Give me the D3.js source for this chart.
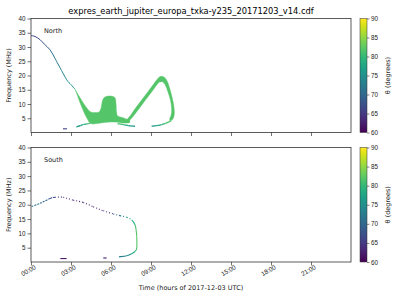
<!DOCTYPE html>
<html><head><meta charset="utf-8">
<script src="https://cdn.jsdelivr.net/npm/d3@7"></script>
<style>
body{margin:0;background:#fff;}
svg{font-family:"DejaVu Sans",sans-serif;}
</style></head>
<body><svg id="c" width="400" height="300"></svg>
<script>
const title = "expres_earth_jupiter_europa_txka-y235_20171203_v14.cdf";
const xTickHours = [0,3,6,9,12,15,18,21];
const xTickLabels = ["00:00","03:00","06:00","09:00","12:00","15:00","18:00","21:00"];
const yTicks = [5,10,15,20,25,30,35,40];
const cbTicks = [60,65,70,75,80,85,90];

// North: thin descending curve
const nLineT = [0,0.3,0.7,1.0,1.43,1.8,2.17,2.68,3.0,3.3];
const nLineF = [34,33.7,32.5,31,29,26,22.8,18.5,16.8,15.2];
const nLineTh = [66,66,67,68,70,72,73,75,76,78];
// North: main band polygon (vertices)
const nBandT = [3.3,3.6,3.9,4.2,4.45,4.8,5.1,5.25,5.35,5.5,5.8,6.1,6.3,6.38,6.42,6.5,6.9,7.2,7.4,
                7.4,7.0,6.5,6.0,5.5,5.0,4.6,4.43,4.2,4.05,3.67,3.4];
const nBandF = [15.2,12.8,10.5,8.5,7.3,7.0,7.2,8.5,11,12.3,12.8,12.7,12.2,10,7,5.8,5.2,4.6,4.2,
                3.5,3.3,3.6,3.7,3.5,3.2,3.0,3.3,5.0,6.3,10.5,14.0];
const nBandTh = 82;
// North: loop polygon
const nLoopT = [7.2,7.5,7.8,8.3,8.8,9.2,9.55,9.75,10.0,10.2,10.4,10.6,10.72,10.75,10.65,10.45,
                10.4,10.5,10.55,10.45,10.25,10.05,9.85,9.65,9.55,9.2,8.8,8.3,7.8,7.5,7.3];
const nLoopF = [4.3,6.2,8.3,11.4,14.5,17.0,19.1,19.7,19.4,18.2,15.5,12,9,6.5,4.8,4.0,
                4.8,6.0,8,11.5,14.5,16.8,17.8,17.7,17.4,15.2,12.7,9.6,6.5,4.8,3.9];
const nLoopTh = 82;
// North: thin tails
const nTailAT = [3.4,3.7,3.92,4.2,4.45], nTailAF = [2.0,2.4,2.8,3.0,3.2], nTailATh = [76,77,78,80,82];
const nTailBT = [6.5,7.0,7.3,7.8], nTailBF = [3.1,2.7,2.4,2.2], nTailBTh = [82,80,77,76];
const nTailCT = [9.05,9.4,9.8,10.1,10.35,10.5], nTailCF = [2.2,2.4,2.8,3.2,3.7,4.1], nTailCTh = [76,77,79,81,82,82];
const nDashT = [2.4,2.7], nDashF = [1.3,1.3], nDashTh = [66,66];

// South curve
const sLineT = [0.05,0.68,1.43,1.8,2.42,3.17,3.92,4.67,5.42,6.17,6.68,7.18,7.55,7.8,7.88,7.93,7.93,7.8,7.55,7.18,6.6];
const sLineF = [19.4,20.5,22.2,22.6,22.6,21.6,20.8,19.3,17.9,16.8,16.2,15.6,14.7,13,11.3,8.9,4.9,3.7,2.9,2.2,1.8];
const sLineTh = [72,71,68,66,64,63,63,63,64,67,72,75,78,80,82,82,82,80,76,74,72];
const sDash1T = [2.2,2.67], sDash1F = [1.2,1.2], sDash1Th = [62,62];
const sDash2T = [5.42,5.67], sDash2F = [1.4,1.4], sDash2Th = [62,62];

const svg = d3.select("#c");
const color = d3.scaleSequential(d3.interpolateViridis).domain([60,90]);
const x = d3.scaleLinear().domain([0,24]).range([31,351]);

svg.append("text").attr("x",191).attr("y",13.5).attr("text-anchor","middle")
  .style("font-size","8.3px").attr("fill","#000").text(title);

function panel(top, bottom, name, showX, draw){
  const y = d3.scaleLinear().domain([0,40]).range([bottom, top]);
  const g = svg.append("g");
  draw(g, y);
  g.append("rect").attr("x",31).attr("y",top).attr("width",320).attr("height",bottom-top)
    .attr("fill","none").attr("stroke","#333").attr("stroke-width",0.8);
  const ya = d3.axisLeft(y).tickValues(yTicks).tickSize(3.5).tickPadding(2);
  const gy = g.append("g").attr("transform","translate(31,0)").call(ya);
  gy.select(".domain").remove();
  gy.selectAll("text").style("font-size","6.3px").attr("fill","#222");
  gy.selectAll("line").attr("stroke","#333").attr("stroke-width",0.7);
  const xa = d3.axisBottom(x).tickValues(xTickHours).tickSize(3.5).tickFormat((d,i)=>showX?xTickLabels[i]:"");
  const gx = g.append("g").attr("transform",`translate(0,${bottom})`).call(xa);
  gx.select(".domain").remove();
  gx.selectAll("line").attr("stroke","#333").attr("stroke-width",0.7);
  gx.selectAll("text").style("font-size","6.3px").attr("fill","#222")
    .attr("text-anchor","end").attr("dy","0").attr("y",8).attr("x",1)
    .attr("transform","rotate(-30)");
  g.append("text").attr("transform",`translate(11,${(top+bottom)/2}) rotate(-90)`)
    .attr("text-anchor","middle").style("font-size","6.5px").attr("fill","#222").text("Frequency (MHz)");
  g.append("text").attr("x",44).attr("y",top+14).style("font-size","6.5px").attr("fill","#222").text(name);
  const cy = d3.scaleLinear().domain([60,90]).range([bottom, top]);
  const gid = "grad"+name;
  const grad = svg.append("defs").append("linearGradient").attr("id",gid)
    .attr("x1",0).attr("y1",1).attr("x2",0).attr("y2",0);
  d3.range(0,1.0001,0.05).forEach(s=>grad.append("stop").attr("offset",s).attr("stop-color",d3.interpolateViridis(s)));
  g.append("rect").attr("x",360).attr("y",top).attr("width",7).attr("height",bottom-top)
    .attr("fill",`url(#${gid})`).attr("stroke","#333").attr("stroke-width",0.5);
  const ca = d3.axisRight(cy).tickValues(cbTicks).tickSize(2.5).tickPadding(1.5);
  const gc = g.append("g").attr("transform","translate(367,0)").call(ca);
  gc.select(".domain").remove();
  gc.selectAll("line").attr("stroke","#333").attr("stroke-width",0.6);
  gc.selectAll("text").style("font-size","6.3px").attr("fill","#222");
  g.append("text").attr("transform",`translate(390,${(top+bottom)/2}) rotate(-90)`)
    .attr("text-anchor","middle").style("font-size","6.5px").attr("fill","#222").text("θ (degrees)");
}

function poly(g, y, T, F, th){
  const pts = T.map((t,i)=>[x(t), y(F[i])]);
  g.append("path").attr("d", d3.line().curve(d3.curveCatmullRomClosed.alpha(0.5))(pts))
    .attr("fill", color(th)).attr("stroke", color(th)).attr("stroke-width",0.4);
}
// smooth (Catmull-Rom) per-segment coloured curve
function segs(g, y, T, F, Th, w, dash){
  const p = T.map((t,i)=>[x(t), y(F[i])]);
  const n = p.length;
  for(let i=0;i<n-1;i++){
    const p0 = p[Math.max(0,i-1)], p1 = p[i], p2 = p[i+1], p3 = p[Math.min(n-1,i+2)];
    const c1 = [p1[0]+(p2[0]-p0[0])/6, p1[1]+(p2[1]-p0[1])/6];
    const c2 = [p2[0]-(p3[0]-p1[0])/6, p2[1]-(p3[1]-p1[1])/6];
    const pa = d3.path(); pa.moveTo(p1[0],p1[1]); pa.bezierCurveTo(c1[0],c1[1],c2[0],c2[1],p2[0],p2[1]);
    g.append("path").attr("d", pa.toString()).attr("fill","none")
      .attr("stroke", color((Th[i]+Th[i+1])/2)).attr("stroke-width", w)
      .attr("stroke-dasharray", dash ? dash(i) : null);
  }
}

panel(18.5, 132.5, "North", false, (g,y)=>{
  segs(g,y,nLineT,nLineF,nLineTh,1.0,null);
  poly(g,y,nBandT,nBandF,nBandTh);
  poly(g,y,nLoopT,nLoopF,nLoopTh);
  segs(g,y,nTailAT,nTailAF,nTailATh,1.2,null);
  segs(g,y,nTailBT,nTailBF,nTailBTh,1.3,null);
  segs(g,y,nTailCT,nTailCF,nTailCTh,1.3,null);
  segs(g,y,nDashT,nDashF,nDashTh,1.1,null);
});
panel(147.5, 262, "South", true, (g,y)=>{
  segs(g,y,sLineT,sLineF,sLineTh,1.1,i=> sLineT[i] < 1.5 ? "2,1" : (i < 12 ? "1,2" : null));
  segs(g,y,sDash1T,sDash1F,sDash1Th,1.1,null);
  segs(g,y,sDash2T,sDash2F,sDash2Th,1.1,null);
});

svg.append("text").attr("x",191).attr("y",290).attr("text-anchor","middle")
  .style("font-size","6.5px").attr("fill","#222").text("Time (hours of 2017-12-03 UTC)");
</script></body></html>
